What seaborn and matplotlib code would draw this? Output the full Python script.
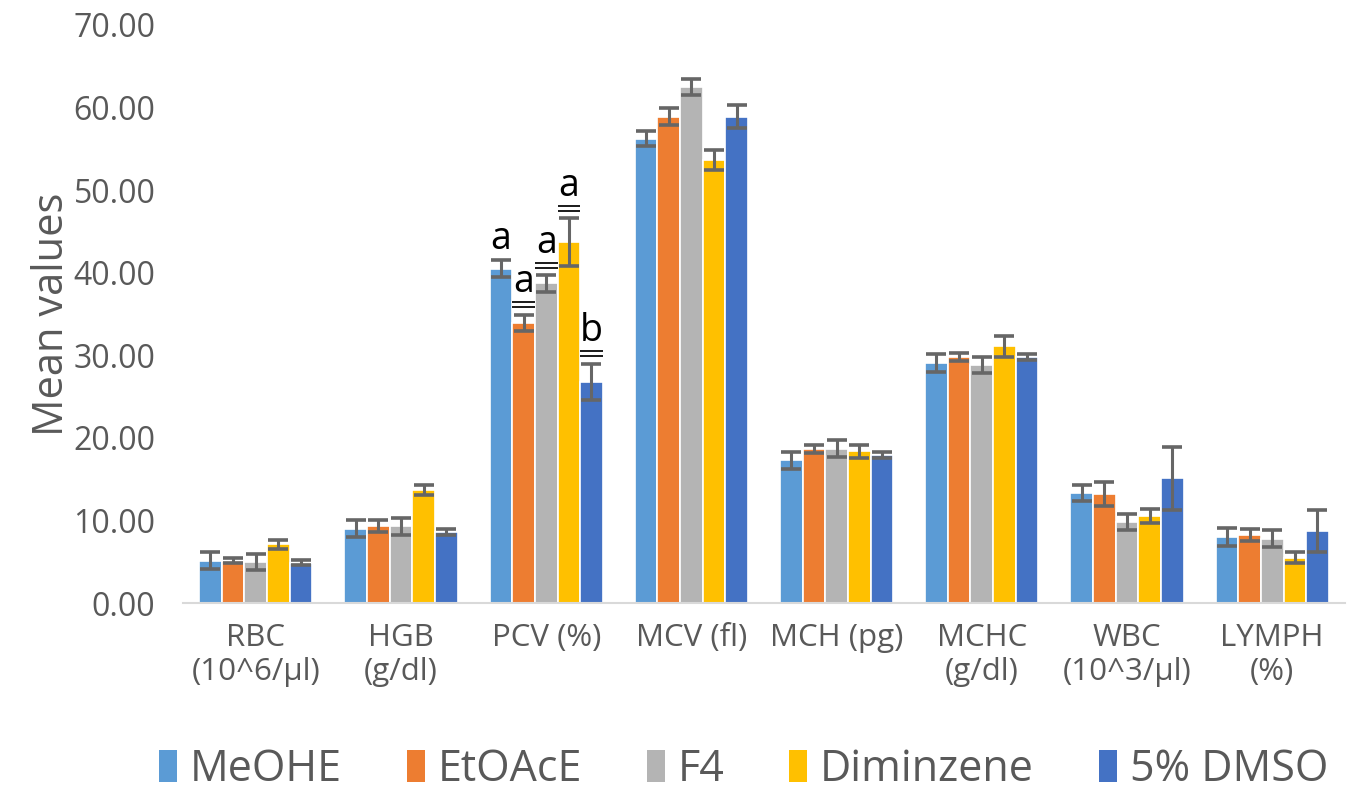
import numpy as np
import pandas as pd
import matplotlib
matplotlib.use("Agg")
import matplotlib.pyplot as plt
import seaborn as sns

# Haematological parameters (x categories)
parameters = ["RBC\n(10^6/µl)", "HGB\n(g/dl)", "PCV (%)", "MCV (fl)", "MCH (pg)",
              "MCHC\n(g/dl)", "WBC\n(10^3/µl)", "LYMPH\n(%)"]
groups = ["MeOHE", "EtOAcE", "F4", "Diminzene", "5% DMSO"]

# Mean values per group, in parameter order
meohe_mean = [5.15, 9.0, 40.5, 56.2, 17.3, 29.1, 13.3, 8.0]
etoace_mean = [5.1, 9.3, 33.9, 58.9, 18.7, 29.8, 13.2, 8.25]
f4_mean = [5.0, 9.3, 38.7, 62.5, 18.7, 28.8, 9.8, 7.8]
diminzene_mean = [7.1, 13.7, 43.7, 53.6, 18.4, 31.1, 10.5, 5.5]
dmso_mean = [4.9, 8.6, 26.8, 58.9, 17.9, 29.8, 15.1, 8.75]

# Error (SEM) per group
meohe_err = [1.05, 1.0, 1.0, 0.9, 1.05, 1.1, 1.0, 1.05]
etoace_err = [0.3, 0.75, 1.0, 1.0, 0.5, 0.5, 1.5, 0.7]
f4_err = [1.0, 1.0, 1.0, 1.0, 1.05, 1.0, 1.0, 1.0]
diminzene_err = [0.5, 0.6, 2.9, 1.2, 0.8, 1.25, 0.85, 0.7]
dmso_err = [0.3, 0.4, 2.2, 1.4, 0.35, 0.35, 3.8, 2.55]

# Significance letters on PCV (letter, number of underlines)
pcv_letters = ["a", "a", "a", "a", "b"]
pcv_underlines = [0, 2, 2, 2, 2]

palette = ["#5B9BD5", "#ED7D31", "#B4B4B4", "#FFC000", "#4472C4"]

means = [meohe_mean, etoace_mean, f4_mean, diminzene_mean, dmso_mean]
errs = [meohe_err, etoace_err, f4_err, diminzene_err, dmso_err]

df = pd.DataFrame({
    "parameter": np.tile(parameters, len(groups)),
    "group": np.repeat(groups, len(parameters)),
    "mean": np.concatenate(means),
    "err": np.concatenate(errs),
})

sns.set_style("white")
plt.rcParams["font.family"] = ["Open Sans", "DejaVu Sans"]

fig = plt.figure(figsize=(13.57, 8.02), dpi=100)
ax = fig.add_axes([0.135, 0.248, 0.856, 0.721])

sns.barplot(data=df, x="parameter", y="mean", hue="group", order=parameters,
            hue_order=groups, palette=palette, errorbar=None, width=0.78,
            edgecolor="white", linewidth=1.2, saturation=1, ax=ax)

bar_containers = list(ax.containers)

err_color = "#666666"
for gi, container in enumerate(bar_containers):
    xs = [b.get_x() + b.get_width() / 2 for b in container]
    ax.errorbar(xs, means[gi], yerr=errs[gi], fmt="none", ecolor=err_color,
                elinewidth=2.2, capsize=7, capthick=2.6, zorder=5)

# Letters over the PCV bars, with double underline where marked
pcv_idx = parameters.index("PCV (%)")
line_gap = 0.62
for gi, container in enumerate(bar_containers):
    bar = container[pcv_idx]
    xc = bar.get_x() + bar.get_width() / 2
    top = means[gi][pcv_idx] + errs[gi][pcv_idx]
    base = top + 0.3
    if pcv_underlines[gi]:
        hw = bar.get_width() * 0.5
        for k in range(pcv_underlines[gi]):
            yl = top + 0.9 + k * line_gap
            ax.plot([xc - hw, xc + hw], [yl, yl], color="#1a1a1a", lw=1.4,
                    solid_capstyle="butt", zorder=6)
        base = top + 0.9 + (pcv_underlines[gi] - 1) * line_gap + 0.1
    ax.text(xc, base, pcv_letters[gi], ha="center", va="bottom",
            fontsize=27, color="black", zorder=6)

ax.set_ylim(0, 70)
ax.set_xlim(-0.5, len(parameters) - 0.5)
ax.set_yticks(np.arange(0, 71, 10))
ax.set_yticklabels([f"{v:.2f}" for v in np.arange(0, 71, 10)])
ax.tick_params(axis="y", labelsize=23, labelcolor="#595959", length=0, pad=20)
ax.tick_params(axis="x", labelsize=22.5, labelcolor="#595959", length=0, pad=14)
for lbl in ax.get_xticklabels():
    lbl.set_linespacing(1.2)
ax.set_xlabel("")
ax.set_ylabel("Mean values", fontsize=30, color="#595959", labelpad=0)

for side in ["top", "right", "left"]:
    ax.spines[side].set_visible(False)
ax.spines["bottom"].set_color("#D9D9D9")
ax.spines["bottom"].set_linewidth(1.5)

ax.legend_.remove()
handles = [plt.Rectangle((0, 0), 1, 1, facecolor=c, edgecolor="none") for c in palette]
leg = fig.legend(handles, groups, loc="lower center", bbox_to_anchor=(0.548, -0.036),
                 ncol=5, frameon=False, fontsize=31, handlelength=0.42,
                 handleheight=0.75, handletextpad=0.3, columnspacing=1.5)
for t in leg.get_texts():
    t.set_color("#595959")

fig.savefig("out.png", dpi=100)
